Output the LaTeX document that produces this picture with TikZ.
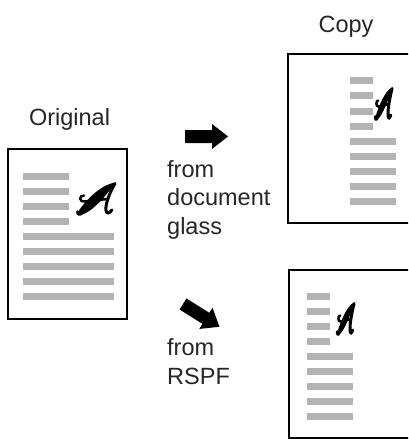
\documentclass[tikz,border=0pt]{standalone}
\usepackage{fontspec}
\setmainfont{Liberation Sans}
\definecolor{bargray}{HTML}{B3B3B3}
\definecolor{txt}{HTML}{262626}
\tikzset{
  page/.style={draw=black, line width=2.6pt, fill=white},
  bar/.style={fill=bargray},
  lbl/.style={font=\fontsize{23.5}{28}\selectfont, text=txt, inner sep=0pt},
  blockarrow/.pic={\fill[black] (0,-6.5) -- (27,-6.5) -- (27,-12.5) -- (43,0) -- (27,12.5) -- (27,6.5) -- (0,6.5) -- cycle;},
  brushA/.pic={
    % thick left stroke
    \fill[black] (0.5,30.5) .. controls (8,19.5) and (22,3.5) .. (38,0.5)
                 .. controls (30,13) and (16,29) .. (5.5,32.5) -- cycle;
    % foot hook
    \draw[black, line width=2.6pt, line cap=round] (5,31) .. controls (3,33.5) and (0,32.5) .. (0.5,29.5);
    % right leg with tail
    \draw[black, line width=3pt, line cap=round] (38,1.5) .. controls (33,10) and (28,22) .. (29,28.5)
          .. controls (29.5,32) and (32.5,31.5) .. (35,28);
    % crossbar with curl
    \draw[black, line width=2.5pt, line cap=round] (7,13.5) .. controls (2,13.5) and (1.5,20) .. (8,19.5)
          .. controls (16,19) and (23,17.5) .. (31,17);
  }
}
\begin{document}
\begin{tikzpicture}[x=1pt,y=-1pt]
\useasboundingbox (0,0) rectangle (408,439);
\clip (0,0) rectangle (408,439);
% pages
\draw[page] (8,149) rectangle (127,319);
\draw[page] (288,54) rectangle (430,223);
\draw[page] (289,270) rectangle (430,438.5);
% original bars
\foreach \k in {0,...,3} \fill[bar] (23,173+15*\k) rectangle (69,180+15*\k);
\foreach \k in {0,...,4} \fill[bar] (23,233+15*\k) rectangle (114,240+15*\k);
% copy bars
\foreach \k in {0,...,3} \fill[bar] (350,77+15.3*\k) rectangle (373,84+15.3*\k);
\foreach \k in {0,...,4} \fill[bar] (350,138+15*\k) rectangle (396,145+15*\k);
% rspf bars
\foreach \k in {0,...,3} \fill[bar] (307,293+15*\k) rectangle (330,300+15*\k);
\foreach \k in {0,...,4} \fill[bar] (307,353+15*\k) rectangle (353,360+15*\k);
% script A letters
\pic (a1) at (77,182) {brushA};
\pic[xscale=0.45] (a2) at (375,87) {brushA};
\pic[xscale=0.45] (a3) at (337,302) {brushA};
% arrows
\pic (arr1) at (185,136.5) {blockarrow};
\pic[rotate=-32] (arr2) at (183,304) {blockarrow};
% labels
\node[lbl, anchor=base] (orig) at (69.5,125) {Original};
\node[lbl, anchor=base] (copy) at (346,32) {Copy};
\node[lbl, anchor=base west] (f1) at (167,177) {from};
\node[lbl, anchor=base west] (f2) at (167,205.5) {document};
\node[lbl, anchor=base west] (f3) at (167,234) {glass};
\node[lbl, anchor=base west] (r1) at (167,355.5) {from};
\node[lbl, anchor=base west] (r2) at (167,384) {RSPF};
\end{tikzpicture}
\end{document}
